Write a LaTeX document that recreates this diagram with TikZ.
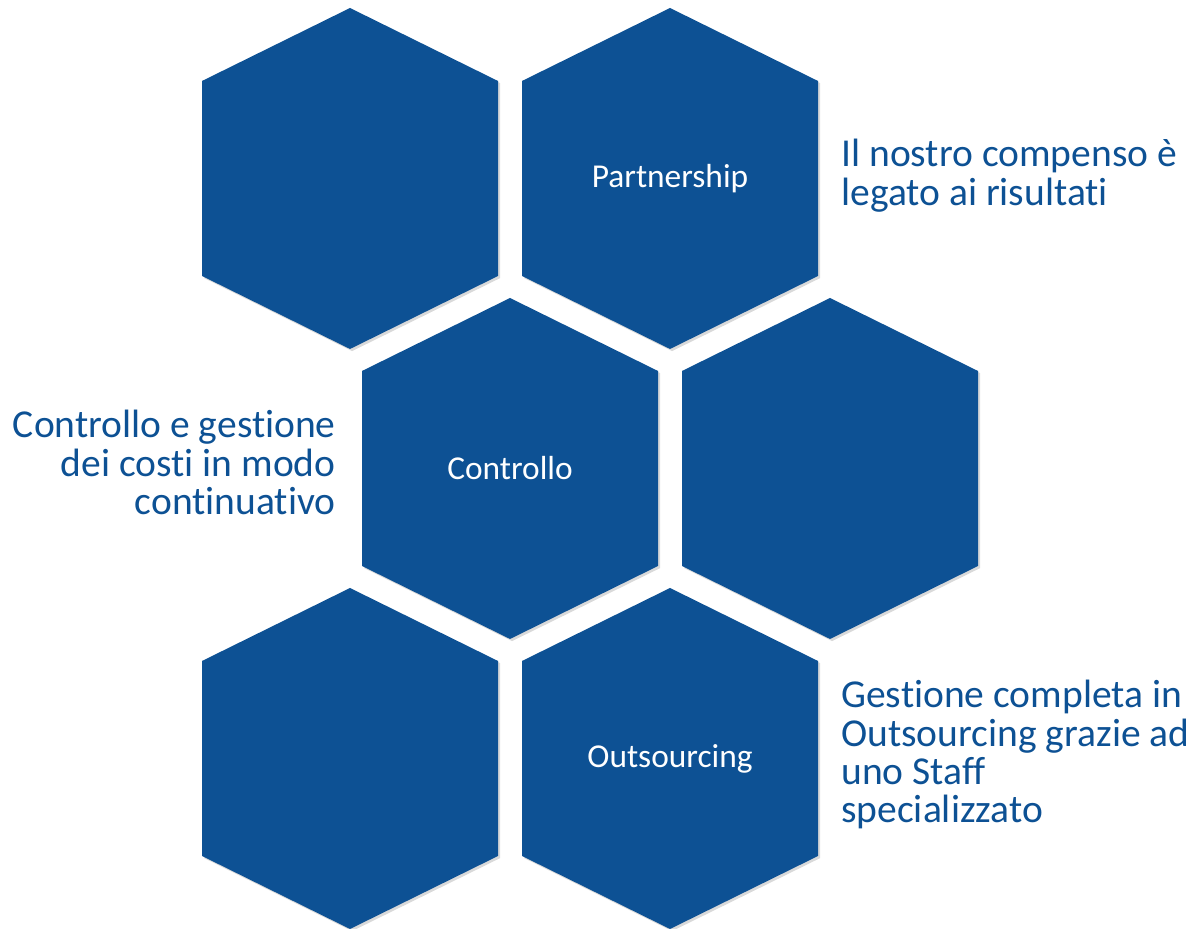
\documentclass[tikz,border=0pt]{standalone}
\usepackage{fontspec}
\setmainfont{Carlito}[Ligatures={NoCommon,NoContextual}]
\definecolor{hexblue}{RGB}{13,81,148}
\usetikzlibrary{shadows}

\begin{document}
\begin{tikzpicture}[
  x=0.02cm, y=0.02cm,
  every node/.style={font=\fontsize{19}{21.8}\selectfont},
  hexcell/.style={fill=hexblue,
                  drop shadow={shadow xshift=1.2pt,shadow yshift=-1.2pt,opacity=0.3}},
  hexlabel/.style={text=white},
  sidenote/.style={text=hexblue,inner sep=0pt,font=\fontsize{22.5}{21.8}\selectfont},
]
  \useasboundingbox (0,0) rectangle (1201,929);
  % Hexagons
  \foreach \cx/\cy in {350/750.5, 670/750.5, 510/460.5, 830/460.5, 350/170.5, 670/170.5}
    \path[hexcell] (\cx,\cy+170.5) -- (\cx+148,\cy+97.5) -- (\cx+148,\cy-97.5)
      -- (\cx,\cy-170.5) -- (\cx-148,\cy-97.5) -- (\cx-148,\cy+97.5) -- cycle;
  % Hexagon labels
  \node[hexlabel] (partner) at (670,750.5) {Partnership};
  \node[hexlabel] (control) at (510,460.5) {Controllo};
  \node[hexlabel] (outsrc) at (670,170.5) {Outsourcing};
  % Side notes
  \node[sidenote,anchor=north west,align=left] (compenso) at (841,790)
    {Il nostro compenso è\\legato ai risultati};
  \node[sidenote,anchor=north east,align=right] (costi) at (336,519)
    {Controllo e gestione\\dei costi in modo\\continuativo};
  \node[sidenote,anchor=north west,align=left] (gestione) at (841,249)
    {Gestione completa in\\Outsourcing grazie ad\\uno Staff\\specializzato};
\end{tikzpicture}
\end{document}
